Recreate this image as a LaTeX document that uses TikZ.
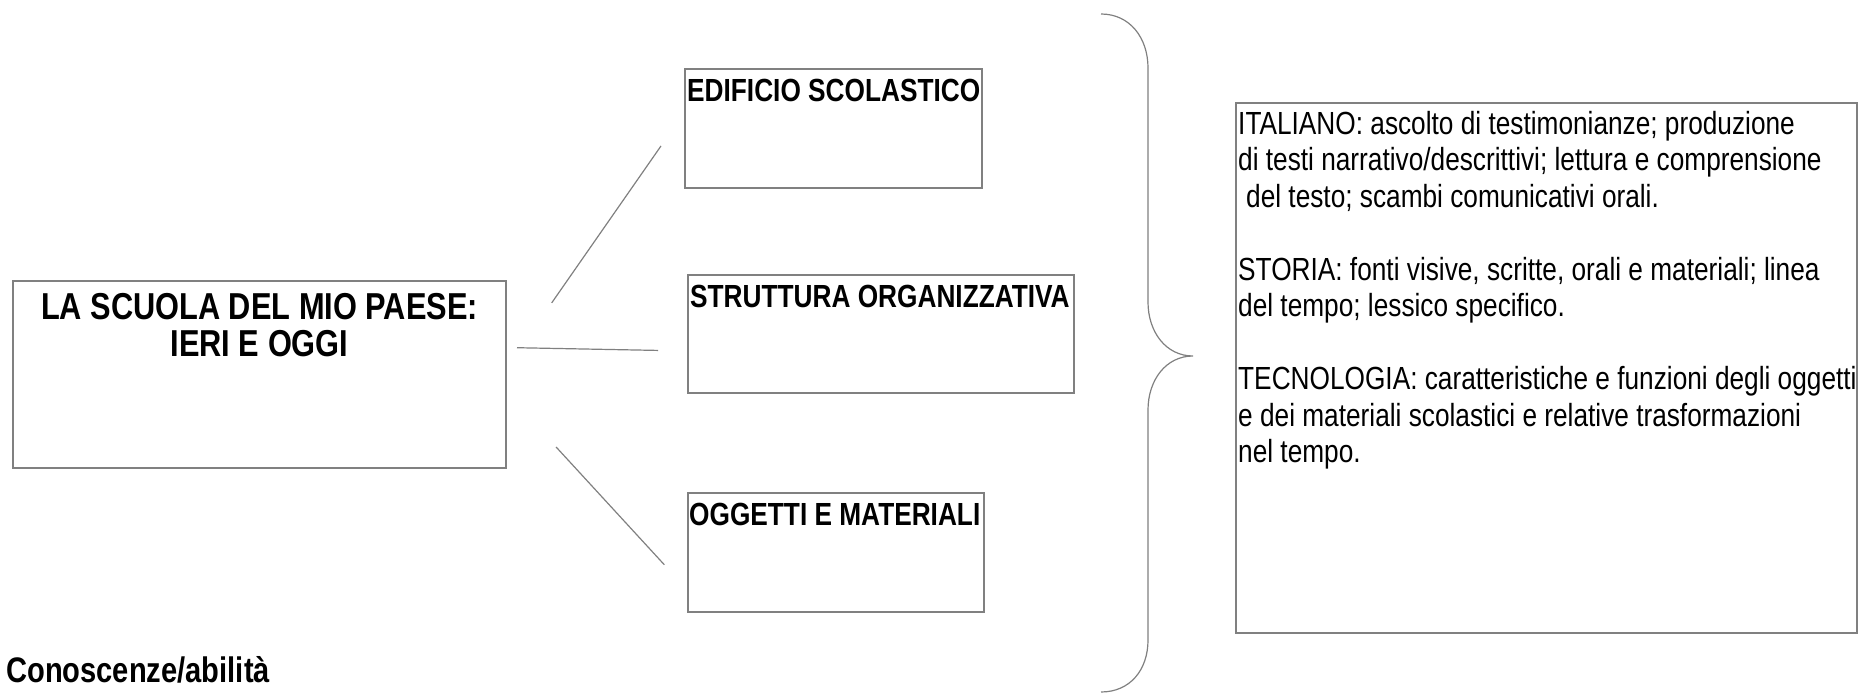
\documentclass[tikz,border=0pt]{standalone}
\usepackage{fontspec}
\setmainfont{Liberation Sans}[FakeStretch=0.82]
\usepackage{tikz}
\usetikzlibrary{calc}
\definecolor{linegray}{RGB}{128,128,128}

\begin{document}
\begin{tikzpicture}[x=1pt,y=-1pt,
  box/.style={draw=linegray, line width=1.6pt, inner sep=0pt, outer sep=0pt},
  link/.style={draw=linegray, line width=1.2pt},
  headtext/.style={font=\fontsize{37.5}{37}\selectfont\bfseries, inner sep=0pt, align=center},
  boxtitle/.style={font=\fontsize{32}{36.5}\selectfont\bfseries, inner sep=0pt, anchor=north west},
  bodytext/.style={font=\fontsize{32}{36.5}\selectfont, inner sep=0pt, align=left, anchor=north west}]
\useasboundingbox (0,0) rectangle (1858,695);

%Shape: Rectangle
\node[box, minimum width=493pt, minimum height=187pt] (titolo) at (259.5,374.5) {};
%Shape: Rectangle
\node[box, minimum width=297pt, minimum height=119pt] (edificio) at (833.5,128.5) {};
%Shape: Rectangle
\node[box, minimum width=386pt, minimum height=118pt] (struttura) at (881,334) {};
%Shape: Rectangle
\node[box, minimum width=296pt, minimum height=119pt] (oggetti) at (836,552.5) {};
%Shape: Rectangle
\node[box, minimum width=621pt, minimum height=530pt] (testi) at (1546.5,368) {};

%Straight Lines
\draw[link, shorten <=80pt, shorten >=42pt] ([yshift=6pt]titolo.east) -- ([yshift=17pt]edificio.west);
%Straight Lines
\draw[link, shorten <=11pt, shorten >=30pt] ([yshift=27pt]titolo.east) -- ([yshift=-17pt]struttura.west);
%Straight Lines
\draw[link, shorten <=74pt, shorten >=35pt] ([yshift=-18pt]titolo.east) -- ([yshift=-38pt]oggetti.west);

%Shape: Brace
\draw[link] (1101,14) .. controls (1130,14) and (1148,38) .. (1148,68) -- (1148,302)
  .. controls (1148,332) and (1166,356) .. (1193,356)
  .. controls (1166,356) and (1148,380) .. (1148,410) -- (1148,640)
  .. controls (1148,670) and (1130,692) .. (1101,692);

% Text Node
\node[headtext, anchor=north] (titolo-testo) at ([yshift=-12pt]titolo.north) {LA SCUOLA DEL MIO PAESE:\\IERI E OGGI};
% Text Node
\node[boxtitle] (edificio-testo) at ([shift={(2,10)}]edificio.north west) {EDIFICIO SCOLASTICO};
% Text Node
\node[boxtitle] (struttura-testo) at ([shift={(2,9.5)}]struttura.north west) {STRUTTURA ORGANIZZATIVA};
% Text Node
\node[boxtitle] (oggetti-testo) at ([shift={(1,9.5)}]oggetti.north west) {OGGETTI E MATERIALI};
% Text Node
\node[bodytext] (testi-testo) at ([shift={(2,8)}]testi.north west) {ITALIANO: ascolto di testimonianze; produzione\\
di testi narrativo/descrittivi; lettura e comprensione\\
\hspace*{0.25em}del testo; scambi comunicativi orali.\\[36.5pt]
STORIA: fonti visive, scritte, orali e materiali; linea\\
del tempo; lessico specifico.\\[36.5pt]
TECNOLOGIA: caratteristiche e funzioni degli oggetti\\
e dei materiali scolastici e relative trasformazioni\\
nel tempo.};
% Text Node
\node[headtext, font=\fontsize{35.5}{36}\selectfont\bfseries, anchor=base west] (conoscenze) at (6,682) {Conoscenze/abilità};

\end{tikzpicture}
\end{document}
